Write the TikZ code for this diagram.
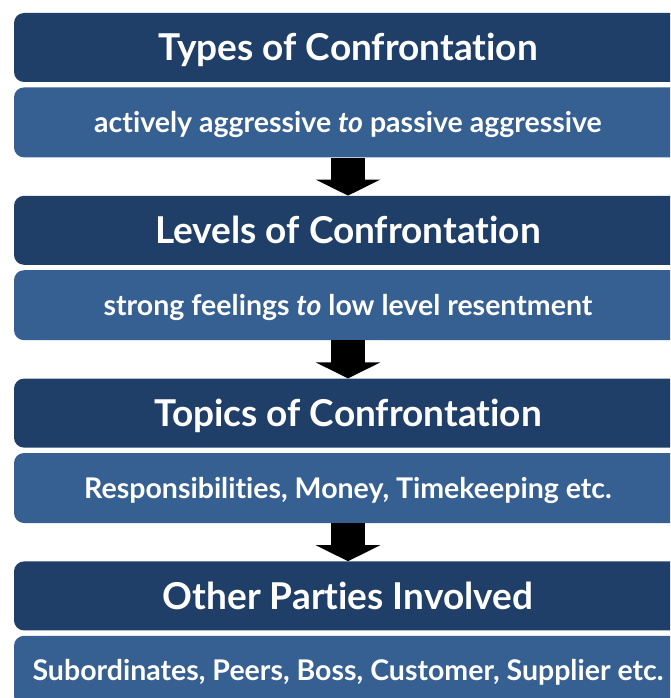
\documentclass[tikz,border=0pt]{standalone}
\usepackage{fontspec}
\setmainfont{Lato}[Ligatures=NoCommon]
\usetikzlibrary{positioning,arrows.meta}

\definecolor{headblue}{HTML}{1F3F68}
\definecolor{bodyblue}{HTML}{365F92}

\tikzset{
  headbox/.style={rectangle,rounded corners=10pt,fill=headblue,text=white,
    minimum width=668pt,minimum height=69pt,inner sep=0pt,
    text height=27pt,text depth=0pt,
    font=\fontsize{37}{42}\selectfont\bfseries},
  bodybox/.style={rectangle,rounded corners=10pt,fill=bodyblue,text=white,
    minimum width=668pt,minimum height=70pt,inner sep=0pt,
    text height=20pt,text depth=0pt,
    font=\fontsize{28.5}{33}\selectfont\bfseries},
  downarrow/.style={line width=34pt,-{Triangle[width=64pt,length=16pt]}}
}

\begin{document}
\begin{tikzpicture}[x=1pt,y=1pt]
  \useasboundingbox (0,0) rectangle (670,-698);
  \clip (0,0) rectangle (670,-698);
  % first pair
  \node [headbox] (types) at (348,-47.5) {Types of Confrontation};
  \node [bodybox,below=5pt of types] (typesrange) {actively aggressive \textit{to} passive aggressive};
  % second pair
  \node [headbox,below=38pt of typesrange] (levels) {Levels of Confrontation};
  \node [bodybox,below=5pt of levels] (levelsrange) {strong feelings \textit{to} low level resentment};
  % third pair
  \node [headbox,below=38pt of levelsrange] (topics) {Topics of Confrontation};
  \node [bodybox,below=5pt of topics] (topicslist) {Responsibilities, Money, Timekeeping etc.};
  % fourth pair
  \node [headbox,below=38pt of topicslist] (parties) {Other Parties Involved};
  \node [bodybox,below=5pt of parties] (partieslist) {Subordinates, Peers, Boss, Customer, Supplier etc.};
  % arrows
  \draw [downarrow] (typesrange.south) -- (levels.north);
  \draw [downarrow] (levelsrange.south) -- (topics.north);
  \draw [downarrow] (topicslist.south) -- (parties.north);
\end{tikzpicture}
\end{document}
